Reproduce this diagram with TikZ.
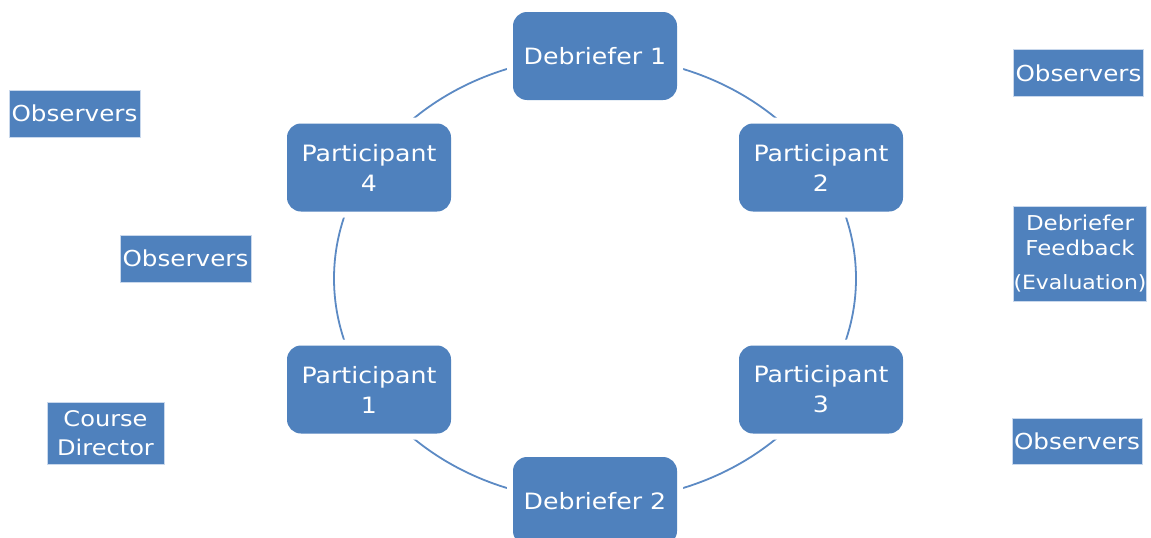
\documentclass[tikz,border=0pt]{standalone}
\usepackage{fontspec}
\setmainfont{DejaVu Sans}[FakeStretch=1.12]
\definecolor{boxblue}{HTML}{4F81BD}
\definecolor{ringblue}{HTML}{5C8AC4}
\definecolor{edgeblue}{HTML}{C9D8EC}
\begin{document}
\begin{tikzpicture}[x=1pt,y=-1pt,
  cyclebox/.style={fill=boxblue, rounded corners=14pt, minimum width=164pt,
    minimum height=88pt, inner sep=0pt, text=white, align=center,
    font=\fontsize{22.5}{30}\selectfont,
    preaction={draw=white, line width=12pt}},
  sidebox/.style={fill=boxblue, draw=edgeblue, line width=0.8pt, inner sep=0pt,
    text=white, align=center, font=\fontsize{22}{29}\selectfont},
  ring/.style={draw=ringblue, line width=1.8pt}]

\clip (0,0) rectangle (1151,538);
\fill[white] (0,0) rectangle (1151,538);

% the cycle ring behind the boxes
\coordinate (centre) at (595,278.5);
\draw[ring] (centre) ellipse [x radius=261pt, y radius=222.5pt];

% boxes on the ring
\node[cyclebox] (d1) at (595,56)    {Debriefer 1};
\node[cyclebox] (p2) at (821,167.5) {Participant\\2};
\node[cyclebox] (p3) at (821,389.5) {Participant\\3};
\node[cyclebox] (d2) at (595,501)   {Debriefer 2};
\node[cyclebox] (p1) at (369,389.5) {Participant\\1};
\node[cyclebox] (p4) at (369,167.5) {Participant\\4};

% labels around the cycle
\node[sidebox, minimum width=130pt, minimum height=47pt] (obstr) at (1078.5,73) {Observers};
\node[sidebox, minimum width=131pt, minimum height=47pt] (obsl1) at (74.5,113.5) {Observers};
\node[sidebox, minimum width=131pt, minimum height=47pt] (obsl2) at (185.5,258.5) {Observers};
\node[sidebox, minimum width=133pt, minimum height=95pt,
      font=\fontsize{20.5}{25}\selectfont] (feedback) at (1080,253.5)
  {Debriefer\\Feedback\\[9pt]{\fontsize{19.6}{25}\selectfont(Evaluation)}};
\node[sidebox, minimum width=117pt, minimum height=62pt,
      font=\fontsize{21.5}{29}\selectfont] (director) at (105.5,433) {Course\\Director};
\node[sidebox, minimum width=130pt, minimum height=46pt] (obsbr) at (1077,441) {Observers};
\end{tikzpicture}
\end{document}
